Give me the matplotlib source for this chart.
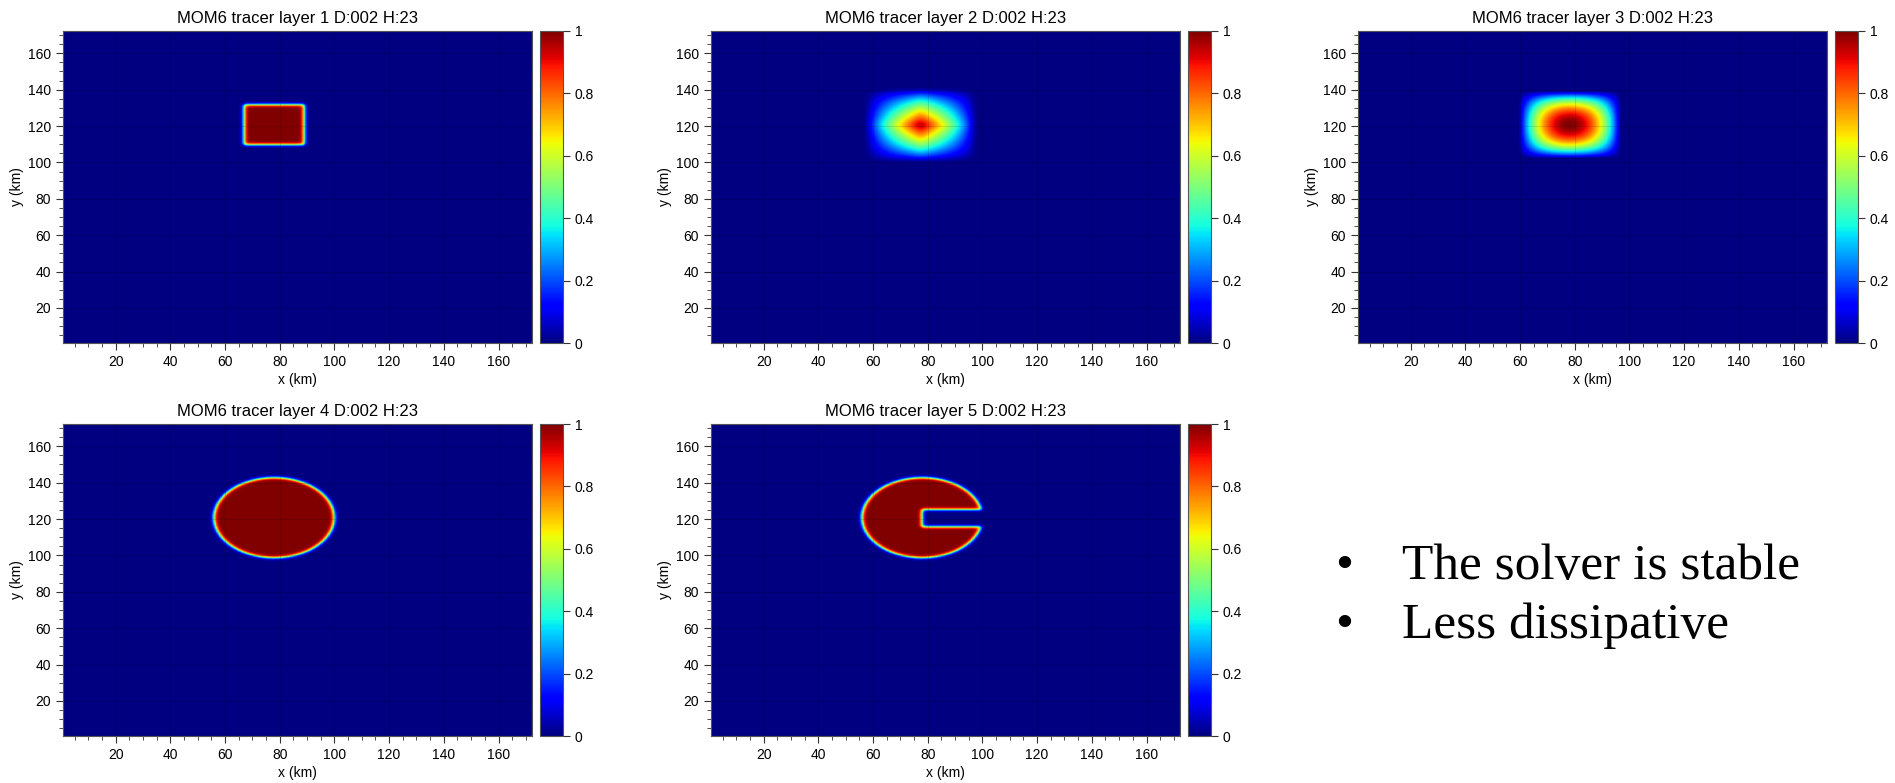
import numpy as np
import matplotlib.pyplot as plt
from matplotlib.ticker import MultipleLocator

plt.rcParams['font.family'] = ['Liberation Sans', 'DejaVu Sans']

# values (km)
domain = [0.75, 172.25]
titles = ['MOM6 tracer layer 1 D:002 H:23', 'MOM6 tracer layer 2 D:002 H:23',
          'MOM6 tracer layer 3 D:002 H:23', 'MOM6 tracer layer 4 D:002 H:23',
          'MOM6 tracer layer 5 D:002 H:23']
box_x = [67, 89]          # layer 1 square
box_y = [110, 132]
bell2_x = [57.5, 97.5]    # layer 2 spread blob
bell2_y = [101, 140.5]
bell3_x = [59.5, 97]      # layer 3 smooth blob
bell3_y = [102.5, 139.5]
disk_center = [78, 121]   # layers 4 and 5
disk_radius = 22
slot_x = [78, 110]        # layer 5 cut
slot_y = [116, 125.5]
edge = 0.9                # width of the sharp fronts
bullets = ['The solver is stable', 'Less dissipative']
cbar_ticks = [0, 0.2, 0.4, 0.6, 0.8, 1]
cbar_labels = ['0', '0.2', '0.4', '0.6', '0.8', '1']

xc = np.linspace(domain[0] + 0.25, domain[1] - 0.25, 343)
X, Y = np.meshgrid(xc, xc)


def step(d):
    return 0.5 * (1 + np.tanh(d / edge))


def band(v, lo, hi):
    return step(v - lo) * step(hi - v)


def unit(a, lim):
    return (a - np.mean(lim)) / ((lim[1] - lim[0]) / 2)


def soften(f, n=7):
    k = np.ones(n) / n
    f = np.apply_along_axis(lambda c: np.convolve(c, k, mode='same'), 0, f)
    return np.apply_along_axis(lambda c: np.convolve(c, k, mode='same'), 1, f)


layer1 = band(X, *box_x) * band(Y, *box_y)

u, v = unit(X, bell2_x), unit(Y, bell2_y)
layer2 = soften((np.clip(1 - abs(u), 0, 1) * np.clip(1 - abs(v), 0, 1)) ** 0.82)

u, v = unit(X, bell3_x), unit(Y, bell3_y)
layer3 = np.clip(1 - u ** 2, 0, 1) * np.clip(1 - v ** 2, 0, 1)

r = np.hypot(X - disk_center[0], Y - disk_center[1])
layer4 = step(disk_radius - r)
layer5 = layer4 * (1 - band(X, *slot_x) * band(Y, *slot_y))

fields = [layer1, layer2, layer3, layer4, layer5]

W, H = 1895, 783
fig = plt.figure(figsize=(W / 100, H / 100), dpi=100)
lefts = [63, 711, 1358, 63, 711]
tops = [31, 31, 31, 424, 424]
aw, ah = 469, 312

for i in range(5):
    ax = fig.add_axes([lefts[i] / W, 1 - (tops[i] + ah) / H, aw / W, ah / H])
    cax = fig.add_axes([(lefts[i] + aw + 8) / W, 1 - (tops[i] + ah) / H, 23 / W, ah / H])
    m = ax.pcolormesh(xc, xc, fields[i], cmap='jet', vmin=0, vmax=1, shading='gouraud')
    ax.set_xlim(domain)
    ax.set_ylim(domain)
    ax.xaxis.set_major_locator(MultipleLocator(20))
    ax.yaxis.set_major_locator(MultipleLocator(20))
    ax.xaxis.set_minor_locator(MultipleLocator(5))
    ax.yaxis.set_minor_locator(MultipleLocator(5))
    ax.tick_params(which='major', length=5, width=0.8, labelsize=10, color='#333333')
    ax.tick_params(which='minor', length=3, width=0.6, color='#333333')
    ax.grid(True, color='k', alpha=0.15, lw=0.6)
    for s in ax.spines.values():
        s.set_color('#555555')
        s.set_linewidth(0.8)
    ax.set_title(titles[i], fontsize=12, pad=6)
    ax.set_xlabel('x (km)', fontsize=10, labelpad=3)
    ax.set_ylabel('y (km)', fontsize=10, labelpad=3)
    cb = fig.colorbar(m, cax=cax, ticks=cbar_ticks)
    cb.ax.set_yticklabels(cbar_labels)
    cb.ax.tick_params(labelsize=10, length=5, width=0.8, color='#333333')
    cb.outline.set_edgecolor('#555555')
    cb.outline.set_linewidth(0.8)

for k, line in enumerate(bullets):
    yy = 1 - (567 + 59 * k) / H
    fig.text(1344 / W, yy, '\u2022', fontsize=37, family='Liberation Serif', va='center', ha='center')
    fig.text(1402 / W, yy, line, fontsize=37, family='Liberation Serif', va='center', ha='left')

fig.savefig('out.png', dpi=100)
